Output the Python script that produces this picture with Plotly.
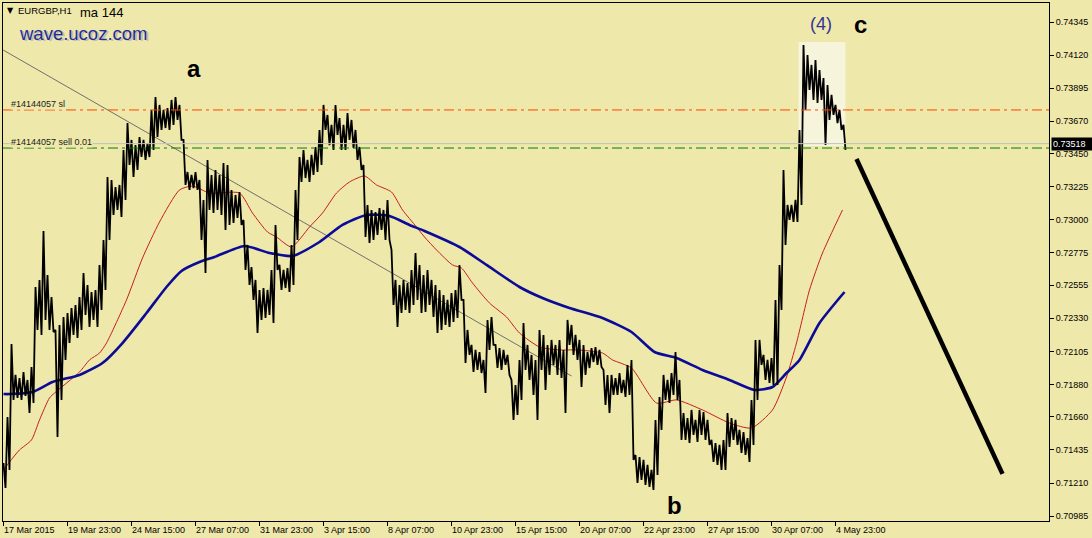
import plotly.graph_objects as go

# ---------------- data ----------------
bar_step_idx = list(range(0, 844, 4))  # bar positions (1 bar = 1 hour), every 4th bar

bar_high = [
    0.71346, 0.71659, 0.72155, 0.71945, 0.71924, 0.71965, 0.71911, 0.71999, 0.72543, 0.72591,
    0.72924, 0.72625, 0.72475, 0.72251, 0.72285, 0.72339, 0.72366, 0.72400, 0.72421, 0.72475,
    0.72638, 0.72557, 0.72509, 0.72523, 0.72693, 0.72863, 0.73291, 0.73271, 0.73223, 0.73237,
    0.73475, 0.73658, 0.73543, 0.73508, 0.73563, 0.73543, 0.73522, 0.73747, 0.73835, 0.73781,
    0.73747, 0.73760, 0.73815, 0.73835, 0.73781, 0.73543, 0.73325, 0.73305, 0.73325, 0.73271,
    0.73135, 0.73407, 0.73305, 0.73339, 0.73305, 0.73386, 0.73373, 0.73203, 0.73169, 0.73189,
    0.72999, 0.72829, 0.72679, 0.72591, 0.72523, 0.72536, 0.72523, 0.72659, 0.72965, 0.72693,
    0.72659, 0.72672, 0.72829, 0.73203, 0.73427, 0.73475, 0.73407, 0.73441, 0.73495, 0.73611,
    0.73781, 0.73713, 0.73645, 0.73781, 0.73692, 0.73645, 0.73726, 0.73679, 0.73611, 0.73495,
    0.73373, 0.73101, 0.73067, 0.73053, 0.73080, 0.73067, 0.73135, 0.72795, 0.72591, 0.72557,
    0.72591, 0.72570, 0.72659, 0.72774, 0.72693, 0.72625, 0.72659, 0.72591, 0.72557, 0.72523,
    0.72489, 0.72455, 0.72502, 0.72523, 0.72693, 0.72455, 0.72251, 0.72149, 0.72115, 0.72101,
    0.72047, 0.72319, 0.72339, 0.72149, 0.72128, 0.72115, 0.72081, 0.71911, 0.71877, 0.72047,
    0.72298, 0.72149, 0.72081, 0.72047, 0.72251, 0.72217, 0.72149, 0.72183, 0.72149, 0.72183,
    0.72115, 0.72319, 0.72285, 0.72217, 0.72183, 0.72149, 0.72101, 0.72128, 0.72135, 0.72115,
    0.71979, 0.71945, 0.71945, 0.71924, 0.71958, 0.71911, 0.72013, 0.72047, 0.71401, 0.71387,
    0.71367, 0.71333, 0.71299, 0.71639, 0.71795, 0.71945, 0.71911, 0.71958, 0.72101, 0.71911,
    0.71686, 0.71652, 0.71707, 0.71639, 0.71707, 0.71693, 0.71639, 0.71503, 0.71482, 0.71469,
    0.71503, 0.71686, 0.71652, 0.71639, 0.71571, 0.71557, 0.71516, 0.71775, 0.72183, 0.72183,
    0.72081, 0.72047, 0.72060, 0.72455, 0.72693, 0.73339, 0.73101, 0.73101, 0.73135, 0.73611,
    0.74189, 0.74121, 0.74053, 0.74087, 0.74019, 0.73964, 0.73917, 0.73849, 0.73781, 0.73747,
    0.73645,
]

bar_low = [
    0.71176, 0.71299, 0.71775, 0.71788, 0.71775, 0.71802, 0.71686, 0.71754, 0.72251, 0.72217,
    0.72319, 0.72251, 0.72237, 0.71523, 0.71775, 0.72047, 0.72162, 0.72217, 0.72196, 0.72251,
    0.72353, 0.72271, 0.72319, 0.72271, 0.72387, 0.72523, 0.72863, 0.73033, 0.73067, 0.73019,
    0.73135, 0.73373, 0.73291, 0.73339, 0.73427, 0.73407, 0.73427, 0.73475, 0.73563, 0.73611,
    0.73624, 0.73611, 0.73645, 0.73679, 0.73543, 0.73237, 0.73203, 0.73216, 0.73203, 0.72863,
    0.72638, 0.73067, 0.73046, 0.73067, 0.73033, 0.72931, 0.72965, 0.72978, 0.73012, 0.72965,
    0.72659, 0.72557, 0.72455, 0.72230, 0.72319, 0.72332, 0.72353, 0.72298, 0.72659, 0.72523,
    0.72536, 0.72509, 0.72557, 0.72863, 0.73257, 0.73284, 0.73257, 0.73305, 0.73325, 0.73373,
    0.73611, 0.73508, 0.73475, 0.73577, 0.73475, 0.73475, 0.73543, 0.73488, 0.73407, 0.73339,
    0.72883, 0.72842, 0.72863, 0.72897, 0.72931, 0.72863, 0.72863, 0.72421, 0.72271, 0.72366,
    0.72387, 0.72366, 0.72421, 0.72455, 0.72366, 0.72373, 0.72421, 0.72339, 0.72230, 0.72251,
    0.72285, 0.72271, 0.72305, 0.72332, 0.72455, 0.72026, 0.72081, 0.71965, 0.71979, 0.71958,
    0.71822, 0.72115, 0.72149, 0.71992, 0.71979, 0.72013, 0.71945, 0.71639, 0.71673, 0.71775,
    0.71979, 0.71911, 0.71809, 0.71639, 0.71979, 0.71843, 0.71945, 0.72013, 0.71945, 0.71924,
    0.71686, 0.72149, 0.72081, 0.72047, 0.71863, 0.71945, 0.71992, 0.72033, 0.72013, 0.71999,
    0.71741, 0.71686, 0.71809, 0.71809, 0.71822, 0.71795, 0.71809, 0.71367, 0.71210, 0.71231,
    0.71197, 0.71183, 0.71163, 0.71265, 0.71571, 0.71775, 0.71754, 0.71809, 0.71775, 0.71503,
    0.71503, 0.71482, 0.71537, 0.71489, 0.71537, 0.71503, 0.71469, 0.71353, 0.71333, 0.71299,
    0.71299, 0.71455, 0.71503, 0.71469, 0.71414, 0.71401, 0.71353, 0.71469, 0.71775, 0.72013,
    0.71911, 0.71890, 0.71877, 0.71877, 0.72387, 0.72829, 0.72999, 0.72985, 0.72985, 0.73101,
    0.73747, 0.73883, 0.73815, 0.73794, 0.73815, 0.73508, 0.73679, 0.73713, 0.73658, 0.73611,
    0.73475,
]

ma_red_idx = [0, 6, 16, 28, 36, 46, 51, 76, 86, 96,
              103, 123, 139, 156, 176, 189, 206, 236, 249, 264,
              273, 288, 306, 319, 333, 346, 361, 373, 388, 399,
              413, 421, 433, 449, 458, 469, 486, 503, 516, 536,
              556, 573, 599, 609, 628, 653, 673, 699, 726, 748,
              769, 783, 793, 806, 819, 839]
ma_red_val = [0.71299, 0.71353, 0.71435, 0.71503, 0.71639, 0.71789, 0.71822, 0.71965, 0.72047, 0.72094,
              0.72162, 0.72455, 0.72740, 0.72985, 0.73203, 0.73230, 0.73182, 0.73182, 0.73046, 0.72917,
              0.72883, 0.72815, 0.72951, 0.73046, 0.73182, 0.73257, 0.73298, 0.73237, 0.73189, 0.73067,
              0.72951, 0.72883, 0.72795, 0.72693, 0.72672, 0.72570, 0.72434, 0.72339, 0.72230, 0.72135,
              0.72115, 0.72115, 0.72094, 0.72047, 0.71992, 0.71754, 0.71775, 0.71707, 0.71618, 0.71584,
              0.71707, 0.71931, 0.72162, 0.72523, 0.72774, 0.73067]

ma144_idx = [0, 6, 29, 49, 76, 99, 119, 143, 163, 178,
             196, 211, 241, 266, 289, 316, 339, 363, 386, 406,
             421, 456, 483, 516, 539, 566, 599, 628, 651, 673,
             699, 726, 751, 769, 783, 796, 816, 841]
ma144_val = [0.71815, 0.71815, 0.71829, 0.71897, 0.71945, 0.72026, 0.72162, 0.72366, 0.72543, 0.72652,
             0.72713, 0.72747, 0.72822, 0.72774, 0.72754, 0.72849, 0.72965, 0.73033, 0.73026, 0.72965,
             0.72924, 0.72815, 0.72693, 0.72543, 0.72468, 0.72400, 0.72332, 0.72237, 0.72101, 0.72060,
             0.71979, 0.71911, 0.71843, 0.71863, 0.71958, 0.72047, 0.72298, 0.72509]

trend_idx = [-0.5, 568]
trend_val = [0.74155, 0.71938]

forecast_idx = [853, 999]
forecast_val = [0.73413, 0.71272]

box_idx = [795, 842]
box_val = [0.73501, 0.74209]

sl_price = 0.73747
sell_price = 0.73488
bid_price = 0.73518

y_tick_vals = [0.74345, 0.74120, 0.73895, 0.73670, 0.73450, 0.73225, 0.73000, 0.72775,
               0.72555, 0.72330, 0.72105, 0.71880, 0.71660, 0.71435, 0.71210, 0.70985]
y_tick_text = ["%.5f" % v for v in y_tick_vals]

x_tick_idx = [0, 64, 128, 192, 256, 320, 384, 448, 512, 576, 640, 704, 768, 832]
x_tick_text = ["17 Mar 2015", "19 Mar 23:00", "24 Mar 15:00", "27 Mar 07:00", "31 Mar 23:00",
               "3 Apr 15:00", "8 Apr 07:00", "10 Apr 23:00", "15 Apr 15:00", "20 Apr 07:00",
               "22 Apr 23:00", "27 Apr 15:00", "30 Apr 07:00", "4 May 23:00"]

wave_labels = [("a", 190, 0.74032), ("b", 671, 0.71054), ("c", 857, 0.74325)]
count_label = ("(4)", 817, 0.74332)

# ---------------- figure ----------------
BG = "#EEE8AA"
FONT = "Liberation Sans"
W, H = 1092, 538
L, R, T, B = 3, 43, 3, 17

fig = go.Figure()

# price band as a dense zigzag through highs and lows
px, py = [], []
for i, h, l in zip(bar_step_idx, bar_high, bar_low):
    px += [i, i + 2]
    py += [h, l]

fig.add_trace(go.Scatter(x=trend_idx, y=trend_val, mode="lines",
                         line=dict(color="#707070", width=1), hoverinfo="skip"))
fig.add_trace(go.Scatter(x=ma_red_idx, y=ma_red_val, mode="lines",
                         line=dict(color="#C81E1E", width=1, shape="spline", smoothing=0.6),
                         hoverinfo="skip"))
fig.add_trace(go.Scatter(x=ma144_idx, y=ma144_val, mode="lines",
                         line=dict(color="#0B0B98", width=2.6, shape="spline", smoothing=0.6),
                         hoverinfo="skip"))
fig.add_trace(go.Scatter(x=px, y=py, mode="lines",
                         line=dict(color="black", width=1.8), hoverinfo="skip"))
fig.add_trace(go.Scatter(x=forecast_idx, y=forecast_val, mode="lines",
                         line=dict(color="black", width=4.5), hoverinfo="skip"))

shapes = [
    dict(type="rect", xref="x", yref="y", x0=box_idx[0], x1=box_idx[1], y0=box_val[0], y1=box_val[1],
         fillcolor="#F6F4DA", line=dict(width=0), layer="below"),
    dict(type="line", xref="paper", yref="y", x0=0, x1=1, y0=bid_price, y1=bid_price,
         line=dict(color="#C0C0C0", width=1)),
    dict(type="line", xref="paper", yref="y", x0=0, x1=1, y0=sl_price, y1=sl_price,
         line=dict(color="#FF4500", width=1, dash="10px,4px,3px,4px")),
    dict(type="line", xref="paper", yref="y", x0=0, x1=1, y0=sell_price, y1=sell_price,
         line=dict(color="#008000", width=1, dash="10px,4px,3px,4px")),
]

def pix_ann(text, x_px, y_px, size, color="black", family=FONT, bold=False, **kw):
    t = "<b>%s</b>" % text if bold else text
    return dict(text=t, xref="paper", yref="paper", x=0, y=1,
                xshift=x_px - L, yshift=-(y_px - T), xanchor="left", yanchor="middle",
                showarrow=False, font=dict(size=size, color=color, family=family),
                borderpad=0, **kw)

annotations = [
    pix_ann("▼", 6, 10, 8, family="DejaVu Sans"),
    pix_ann("EURGBP,H1", 17, 10, 9.5),
    pix_ann("ma 144", 79, 12, 13),
    pix_ann("wave.ucoz.com", 19.5, 34.5, 18.5, color="#C2BEB0"),
    pix_ann("wave.ucoz.com", 17.5, 33, 18.5, color="#1E2C9C"),
]

# order labels on the chart
annotations.append(dict(text="#14144057 sl", xref="paper", yref="y", x=0, y=sl_price,
                        xshift=7, yshift=0, xanchor="left", yanchor="bottom", showarrow=False,
                        font=dict(size=9, color="#222222", family=FONT), borderpad=0, bgcolor=BG))
annotations.append(dict(text="#14144057 sell 0.01", xref="paper", yref="y", x=0, y=sell_price,
                        xshift=7, yshift=0, xanchor="left", yanchor="bottom", showarrow=False,
                        font=dict(size=9, color="#222222", family=FONT), borderpad=0, bgcolor=BG))

for txt, i, p in wave_labels:
    annotations.append(dict(text="<b>%s</b>" % txt, x=i, y=p, xref="x", yref="y", showarrow=False,
                            font=dict(size=24, color="black", family=FONT)))
annotations.append(dict(text=count_label[0], x=count_label[1], y=count_label[2], xref="x", yref="y",
                        showarrow=False, font=dict(size=18, color="#333399", family=FONT)))

# bottom time labels (left aligned at tick, MetaTrader style)
for i, t in zip(x_tick_idx, x_tick_text):
    annotations.append(dict(text=t, x=i, y=0, xref="x", yref="paper", xanchor="left", yanchor="top",
                            xshift=-1, yshift=-3, showarrow=False, borderpad=0,
                            font=dict(size=9, color="black", family=FONT)))

# current price tag on the right scale
annotations.append(dict(text="0.73518", xref="paper", yref="y", x=1, y=bid_price, xanchor="left",
                        yanchor="middle", xshift=2, showarrow=False, bgcolor="black", width=41,
                        align="left", borderpad=1, font=dict(size=9, color="white", family=FONT)))

ymin = 0.744946 - 0.000068 * 521
ymax = 0.744946 - 0.000068 * 3

fig.update_layout(
    width=W, height=H,
    margin=dict(l=L, r=R, t=T, b=B, pad=0),
    paper_bgcolor=BG, plot_bgcolor=BG,
    showlegend=False,
    font=dict(family=FONT, size=9, color="black"),
    shapes=shapes, annotations=annotations,
    xaxis=dict(range=[-0.5, 1045.5], showgrid=False, zeroline=False, showline=True, mirror=True,
               linecolor="black", linewidth=1, ticks="outside", ticklen=4, tickcolor="black",
               tickvals=x_tick_idx, showticklabels=False, fixedrange=True, automargin=False),
    yaxis=dict(range=[ymin, ymax], side="right", showgrid=False, zeroline=False, showline=True,
               mirror=True, linecolor="black", linewidth=1, ticks="outside", ticklen=4,
               tickcolor="black", tickvals=y_tick_vals, ticktext=y_tick_text,
               tickfont=dict(size=9, family=FONT, color="black"), fixedrange=True, automargin=False),
)

fig.write_html("out.html", config={"displayModeBar": False},
               post_script="document.body.style.margin='0';document.body.style.overflow='hidden';")
